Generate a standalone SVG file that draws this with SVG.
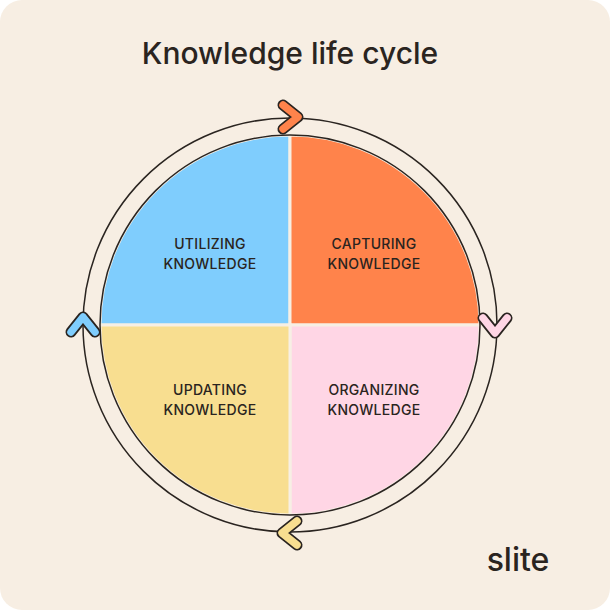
<svg xmlns="http://www.w3.org/2000/svg" width="610" height="610" viewBox="0 0 610 610">
<style>
.t{font-family:Inter,"Liberation Sans",sans-serif;font-size:14px;font-weight:500;fill:#2a2420;text-anchor:middle;letter-spacing:0.3px}
.q{stroke:#f7efe4;stroke-width:3}
.ch{fill:none;stroke-linecap:round;stroke-linejoin:round}
</style>
<rect x="0" y="0" width="610" height="610" rx="22" fill="#f7eee3"/>
<text x="290" y="64" font-family="Inter,'Liberation Sans',sans-serif" font-size="30" font-weight="500" fill="#2a2420" text-anchor="middle">Knowledge life cycle</text>
<g id="ring"><circle cx="290" cy="325" r="207" fill="#f7eee3" stroke="#2a2420" stroke-width="1.5"/></g>
<g id="utilizing"><path class="q" d="M290,325 L290,135 A190,190 0 0 0 100,325 Z" fill="#7fcdfd"/><text class="t" x="210" y="249">UTILIZING</text><text class="t" x="210" y="269">KNOWLEDGE</text></g>
<g id="capturing"><path class="q" d="M290,325 L290,135 A190,190 0 0 1 480,325 Z" fill="#ff834b"/><text class="t" x="374" y="249">CAPTURING</text><text class="t" x="374" y="269">KNOWLEDGE</text></g>
<g id="organizing"><path class="q" d="M290,325 L480,325 A190,190 0 0 1 290,515 Z" fill="#ffd6e5"/><text class="t" x="374" y="395">ORGANIZING</text><text class="t" x="374" y="415">KNOWLEDGE</text></g>
<g id="updating"><path class="q" d="M290,325 L290,515 A190,190 0 0 1 100,325 Z" fill="#f8de90"/><text class="t" x="210" y="395">UPDATING</text><text class="t" x="210" y="415">KNOWLEDGE</text></g>
<circle cx="290" cy="325" r="190" fill="none" stroke="#2a2420" stroke-width="1.5"/>
<g id="connectors">
<g class="ch"><path d="M283,105 L298,117 L283,129" stroke="#2a2420" stroke-width="11"/><path d="M283,105 L298,117 L283,129" stroke="#ff834b" stroke-width="7.5"/></g>
<g class="ch"><path d="M483,318 L495,333 L507,318" stroke="#2a2420" stroke-width="11"/><path d="M483,318 L495,333 L507,318" stroke="#ffd6e5" stroke-width="7.5"/></g>
<g class="ch"><path d="M297,521 L282,533 L297,545" stroke="#2a2420" stroke-width="11"/><path d="M297,521 L282,533 L297,545" stroke="#f8de90" stroke-width="7.5"/></g>
<g class="ch"><path d="M71,332 L83,317 L95,332" stroke="#2a2420" stroke-width="11"/><path d="M71,332 L83,317 L95,332" stroke="#7fcdfd" stroke-width="7.5"/></g>
</g>
<text x="518" y="571" font-family="Inter,'Liberation Sans',sans-serif" font-size="32" font-weight="500" fill="#2a2420" text-anchor="middle">slite</text>
</svg>
